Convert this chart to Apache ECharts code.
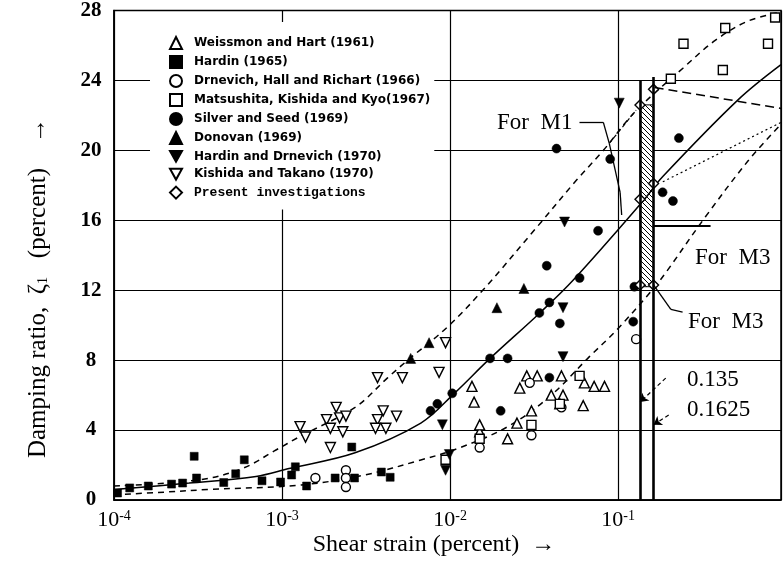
<!DOCTYPE html>
<html><head><meta charset="utf-8">
<script src="https://cdn.jsdelivr.net/npm/echarts@6/dist/echarts.min.js"></script>
<style>html,body{margin:0;padding:0;background:#fff}#c{width:784px;height:576px}</style>
</head><body><div id="c"></div>
<script>
// ---- axis settings ----
const xMin = 1e-4;
const xMax = 0.932;
const yMin = 0, yMax = 28, yStep = 4;
const xTickExponents = [-4, -3, -2, -1];

// ---- scatter data: [shear strain (%), damping ratio (%)] ----
const weissmanHart = [[1.35e-2,6.5],[1.39e-2,5.6],[2.6e-2,6.4],[2.86e-2,7.1],[3.3e-2,7.1],[4.6e-2,7.1],[4.0e-2,6.0],[4.7e-2,6.0],[6.3e-2,6.7],[7.2e-2,6.5],[8.3e-2,6.5],[6.2e-2,5.4],[2.2e-2,3.5],[1.5e-2,3.9],[3.05e-2,5.1],[4.5e-2,5.5],[2.5e-2,4.4],[1.5e-2,4.3]];
const hardin1965 = [[1.05e-4,0.4],[1.24e-4,0.69],[1.6e-4,0.8],[2.2e-4,0.91],[2.56e-4,0.97],[3.0e-4,2.5],[3.1e-4,1.26],[4.5e-4,1.0],[5.3e-4,1.5],[5.96e-4,2.3],[7.6e-4,1.1],[9.8e-4,1.03],[1.14e-3,1.43],[1.2e-3,1.9],[1.4e-3,0.8],[2.07e-3,1.26],[2.6e-3,3.03],[2.7e-3,1.26],[3.9e-3,1.6],[4.4e-3,1.3]];
const drnevichHallRichart = [[1.58e-3,1.26],[2.4e-3,1.7],[2.4e-3,1.26],[2.4e-3,0.74],[0.128,9.2],[2.98e-2,6.7],[1.5e-2,3.0],[3.05e-2,3.7],[4.6e-2,5.3]];
const matsushitaKishidaKyo = [[0.245,26.1],[0.78,26.1],[0.42,24.6],[0.206,24.1],[0.434,27.0],[0.86,27.6],[5.9e-2,7.1],[1.5e-2,3.5],[3.05e-2,4.3],[4.5e-2,5.5],[9.4e-3,2.3]];
const silverSeed = [[4.3e-2,20.1],[8.97e-2,19.5],[0.23,20.7],[0.184,17.6],[0.212,17.1],[7.6e-2,15.4],[3.76e-2,13.4],[5.9e-2,12.7],[3.9e-2,11.3],[3.4e-2,10.7],[4.5e-2,10.1],[1.73e-2,8.1],[2.2e-2,8.1],[3.9e-2,7.0],[2.0e-2,5.1],[0.123,10.2],[0.125,12.2],[7.65e-3,5.1],[8.4e-3,5.5],[1.03e-2,6.1]];
const donovan = [[5.83e-3,8.1],[7.5e-3,9.0],[2.75e-2,12.1],[1.9e-2,11.0]];
const hardinDrnevich = [[0.1016,22.7],[4.8e-2,15.9],[4.7e-2,11.0],[4.7e-2,8.2],[9.0e-3,4.3],[9.4e-3,1.7],[9.9e-3,2.6]];
const kishidaTakano = [[9.4e-3,9.0],[8.6e-3,7.3],[3.7e-3,7.0],[5.2e-3,7.0],[2.1e-3,5.3],[1.84e-3,4.6],[2.2e-3,4.7],[2.4e-3,4.8],[1.94e-3,4.1],[2.3e-3,3.9],[4.0e-3,5.1],[4.8e-3,4.8],[3.7e-3,4.6],[3.6e-3,4.1],[4.15e-3,4.1],[1.28e-3,4.2],[1.38e-3,3.6],[1.94e-3,3.0]];
const presentInvestigations = [[0.135,22.6],[0.1625,23.5],[0.135,17.2],[0.1625,18.1],[0.135,12.3],[0.1625,12.3]];

// ---- curves ----
const meanCurve = [[1e-4,0.6],[2.8e-4,0.97],[7e-4,1.35],[1.1e-3,1.8],[2.72e-3,2.7],[6.7e-3,4.4],[1.06e-2,6.1],[1.73e-2,8.1],[3.42e-2,10.7],[5.43e-2,12.6],[0.1406,17.1],[0.1845,18.5],[0.519,22.9],[0.932,24.9]];
const upperCurve = [[1e-4,0.8],[3.2e-4,1.15],[5.8e-4,1.8],[9.2e-4,2.86],[1.26e-3,3.6],[2.72e-3,5.3],[4.26e-3,7.0],[5.6e-3,8.0],[9.66e-3,9.9],[1.6e-2,12.1],[3.28e-2,15.6],[5.66e-2,18.3],[8.17e-2,20.0],[0.126,22.2],[0.243,24.7],[0.38,26.3],[0.594,27.4],[0.932,27.9]];
const lowerCurve = [[1e-4,0.3],[2e-4,0.45],[3.6e-4,0.6],[1.3e-3,0.86],[3.1e-3,1.43],[6.7e-3,2.29],[1.08e-2,2.9],[2.18e-2,4.17],[3.9e-2,5.9],[6.75e-2,8.2],[9.75e-2,9.7],[0.1625,12.1],[0.192,13.0],[0.331,16.2],[0.594,19.4],[0.932,21.5]];

// ---- M1 / M3 strains and ranges ----
const m1Strain = 0.135, m3Strain = 0.1625;
const mLineTop = [24.0, 24.2];
const hatchRange = [12.2, 22.6];

// ---- annotation leader lines (data coords) ----
const m1Bracket = [[0.0589,21.6],[0.0817,21.6],[0.0886,20.4],[0.1028,17.6],[0.105,16.3]];
const m1UpperLeader = [[0.0886,20.4],[0.128,22.3]];
const m3UpperLeader = [[0.1625,15.7],[0.355,15.7]];
const m3LowerLeader = [[0.1625,12.3],[0.206,10.9],[0.242,10.75]];
const arrow135 = [[0.192,6.97],[0.135,5.6]];
const arrow1625 = [[0.2,4.86],[0.1625,4.3]];
const rightDashedLeader = [[0.165,23.6],[0.932,22.4]];
const rightDottedLeader = [[0.1845,18.2],[0.932,21.6]];

const names = ['Weissmon and Hart (1961)','Hardin (1965)','Drnevich, Hall and Richart (1966)','Matsushita, Kishida and Kyo(1967)','Silver and Seed (1969)','Donovan (1969)','Hardin and Drnevich (1970)','Kishida and Takano (1970)','Present investigations'];

const invTri = 'path://M0,0L10,0L5,9Z';

// hatch pattern
const pc = document.createElement('canvas');
pc.width = 5; pc.height = 5;
const g = pc.getContext('2d');
g.fillStyle = '#fff'; g.fillRect(0,0,5,5);
g.strokeStyle = '#000'; g.lineWidth = 1;
g.beginPath(); g.moveTo(0,0); g.lineTo(5,5); g.moveTo(-1,4); g.lineTo(1,6); g.moveTo(4,-1); g.lineTo(6,1); g.stroke();

function segs(poly, style, arrow) {
  const out = [];
  for (let i = 0; i < poly.length - 1; i++) {
    const last = i === poly.length - 2;
    out.push([{coord: poly[i], symbol: 'none', lineStyle: style},
              {coord: poly[i+1], symbol: (arrow && last) ? 'arrow' : 'none'}]);
  }
  return out;
}

function scatter(name, data, symbol, filled, size) {
  return {
    name, type: 'scatter', data, symbol, symbolSize: size, z: 4,
    itemStyle: filled ? {color: '#000', borderColor: '#000', borderWidth: 0.5, opacity: 1}
                      : {color: '#fff', borderColor: '#000', borderWidth: 1.4, opacity: 1}
  };
}
function curve(data, dashed) {
  return {type: 'line', data, smooth: 0.35, symbol: 'none', silent: true, z: 3,
    lineStyle: {color: '#000', width: 1.5, type: dashed ? [6, 5] : 'solid'}};
}

const solid = {color: '#000', width: 1.3, type: 'solid'};
const annotLines = [].concat(
  segs(m1Bracket, solid),
  segs(m1UpperLeader, {color:'#000', width:1.2, type:[4,3]}),
  segs(m3UpperLeader, {color:'#000', width:1.8, type:'solid'}),
  segs(m3LowerLeader, solid),
  segs(arrow135, {color:'#000', width:1.2, type:[4,3]}, true),
  segs(arrow1625, {color:'#000', width:1.2, type:[4,3]}, true),
  segs(rightDashedLeader, {color:'#000', width:1.5, type:[9,5]}),
  segs(rightDottedLeader, {color:'#000', width:1.2, type:[2,3]}),
  [
    [{coord:[m1Strain,0], symbol:'none', lineStyle:{color:'#000', width:2.6, type:'solid'}},{coord:[m1Strain,mLineTop[0]], symbol:'none'}],
    [{coord:[m3Strain,0], symbol:'none', lineStyle:{color:'#000', width:2.6, type:'solid'}},{coord:[m3Strain,mLineTop[1]], symbol:'none'}]
  ]
);

const chart = echarts.init(document.getElementById('c'), null, {renderer: 'canvas'});
chart.setOption({
  animation: false,
  backgroundColor: '#fff',
  grid: {left: 114, right: -2, top: 10, bottom: 76, show: true, borderColor: '#000', borderWidth: 1.5},
  xAxis: {
    type: 'log', logBase: 10, min: xMin, max: xMax,
    axisLine: {lineStyle: {color: '#000', width: 1.5}},
    axisTick: {show: false},
    splitLine: {show: true, lineStyle: {color: '#000', width: 1.2}},
    axisLabel: {
      margin: 9, color: '#000',
      formatter: function (v) {
        const e = Math.log10(v), r = Math.round(e);
        if (Math.abs(e - r) > 0.01 || xTickExponents.indexOf(r) < 0) return '';
        return '{b|10}{s|' + r + '}';
      },
      rich: {
        b: {fontFamily: 'Liberation Serif', fontSize: 22, color: '#000'},
        s: {fontFamily: 'Liberation Serif', fontSize: 14, color: '#000', verticalAlign: 'top'}
      }
    }
  },
  yAxis: {
    type: 'value', min: yMin, max: yMax, interval: yStep,
    axisLine: {show: true, lineStyle: {color: '#000', width: 1.5}},
    axisTick: {show: false},
    splitLine: {show: true, lineStyle: {color: '#000', width: 1.2}},
    axisLabel: {fontFamily: 'Liberation Serif', fontWeight: 'bold', fontSize: 21, color: '#000', align: 'center', margin: 23}
  },
  legend: {
    orient: 'vertical', left: 150, top: 22, padding: [14, 4, 10, 19],
    itemWidth: 12, itemHeight: 12, itemGap: 5, backgroundColor: '#fff', selectedMode: false, z: 5,
    textStyle: {fontFamily: 'DejaVu Sans', fontWeight: 'bold', fontSize: 12, color: '#000', padding: [0, 0, 0, 7], lineHeight: 12},
    data: names.slice(0, 8).concat([{name: names[8], textStyle: {fontFamily: 'Liberation Mono', fontWeight: 'bold', fontSize: 13, color: '#000'}}])
  },
  graphic: [
    {type: 'text', x: 38, y: 288, rotation: Math.PI / 2, z: 10,
     style: {text: 'Damping ratio,  ζ{sub|1}   (percent)    →', font: '25px "Liberation Serif"', fill: '#000', align: 'center', verticalAlign: 'middle', textAlign: 'center', textVerticalAlign: 'middle',
       rich: {sub: {fontFamily: 'Liberation Serif', fontSize: 14, verticalAlign: 'bottom', fill: '#000'}}}},
    {type: 'text', x: 434, y: 545, z: 10,
     style: {text: 'Shear strain (percent)  →', font: '24px "Liberation Serif"', fill: '#000', align: 'center', verticalAlign: 'middle', textAlign: 'center', textVerticalAlign: 'middle'}},
    {type: 'text', x: 497, y: 123, z: 10,
     style: {text: 'For  M1', font: '23px "Liberation Serif"', fill: '#000', align: 'left', verticalAlign: 'middle', textAlign: 'left', textVerticalAlign: 'middle'}},
    {type: 'text', x: 695, y: 258, z: 10,
     style: {text: 'For  M3', font: '23px "Liberation Serif"', fill: '#000', align: 'left', verticalAlign: 'middle', textAlign: 'left', textVerticalAlign: 'middle'}},
    {type: 'text', x: 688, y: 322, z: 10,
     style: {text: 'For  M3', font: '23px "Liberation Serif"', fill: '#000', align: 'left', verticalAlign: 'middle', textAlign: 'left', textVerticalAlign: 'middle'}},
    {type: 'text', x: 687, y: 380, z: 10,
     style: {text: '0.135', font: '23px "Liberation Serif"', fill: '#000', align: 'left', verticalAlign: 'middle', textAlign: 'left', textVerticalAlign: 'middle'}},
    {type: 'text', x: 687, y: 410, z: 10,
     style: {text: '0.1625', font: '23px "Liberation Serif"', fill: '#000', align: 'left', verticalAlign: 'middle', textAlign: 'left', textVerticalAlign: 'middle'}}
  ],
  series: [
    curve(meanCurve, false),
    curve(upperCurve, true),
    curve(lowerCurve, true),
    {type: 'line', data: [], silent: true, z: 3,
     markArea: {silent: true, itemStyle: {color: {image: pc, repeat: 'repeat'}, borderColor: '#000', borderWidth: 1},
       data: [[{coord: [m1Strain, hatchRange[0]]}, {coord: [m3Strain, hatchRange[1]]}]]},
     markLine: {silent: true, symbolSize: 8, label: {show: false}, lineStyle: {color: '#000'}, data: annotLines}},
    scatter(names[0], weissmanHart, 'triangle', false, 10),
    scatter(names[1], hardin1965, 'rect', true, 8),
    scatter(names[2], drnevichHallRichart, 'circle', false, 9),
    scatter(names[3], matsushitaKishidaKyo, 'rect', false, 9),
    scatter(names[4], silverSeed, 'circle', true, 9),
    scatter(names[5], donovan, 'triangle', true, 10),
    scatter(names[6], hardinDrnevich, invTri, true, 10),
    scatter(names[7], kishidaTakano, invTri, false, 10),
    scatter(names[8], presentInvestigations, 'diamond', false, 10)
  ]
});
</script></body></html>
